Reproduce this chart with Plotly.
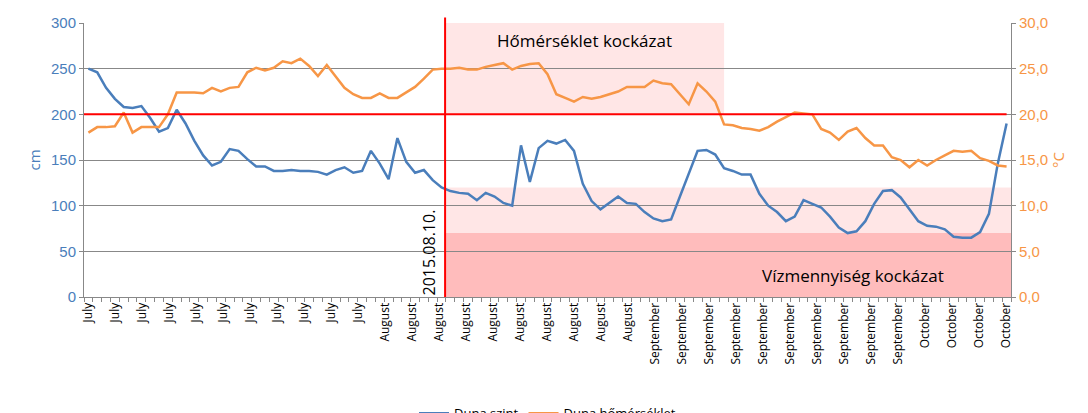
import plotly.graph_objects as go

level_cm = [250,246,229,217,208,207,209,196,181,185,205,190,171,155,144,148,162,160,151,143,
            143,138,138,139,138,138,137,134,139,142,136,138,160,146,129,174,148,136,139,128,
            120,116,114,113,106,114,110,103,100,166,126,163,171,168,172,160,124,105,96,103,
            110,103,102,93,86,83,85,110,136,160,161,156,141,138,134,134,113,100,93,83,
            88,106,102,98,88,76,70,72,83,102,116,117,109,96,83,78,77,74,66,65,
            65,71,91,146,190]
temp_c = [18.0,18.6,18.6,18.7,20.2,18.0,18.6,18.6,18.6,20.0,22.4,22.4,22.4,22.3,22.9,22.5,22.9,23.0,24.6,25.1,
          24.8,25.1,25.8,25.6,26.1,25.3,24.2,25.4,24.2,22.9,22.2,21.8,21.8,22.3,21.8,21.8,22.4,23.0,23.9,24.9,
          25.0,25.0,25.1,24.9,24.9,25.2,25.4,25.6,24.9,25.3,25.5,25.6,24.4,22.2,21.8,21.4,21.9,21.7,21.9,22.2,
          22.5,23.0,23.0,23.0,23.7,23.4,23.3,22.2,21.1,23.4,22.5,21.4,18.9,18.8,18.5,18.4,18.2,18.6,19.2,19.7,
          20.2,20.1,20.0,18.4,18.0,17.2,18.1,18.5,17.4,16.6,16.6,15.3,15.0,14.2,15.0,14.4,15.0,15.5,16.0,15.9,
          16.0,15.2,14.9,14.4,14.3]
month_labels = ["July"]*11 + ["August"]*10 + ["September"]*10 + ["October"]*4
x = list(range(len(level_cm)))
n = len(x)
step = (n - 1) / (len(month_labels) - 1)
tickvals = [k * step for k in range(len(month_labels))]

blue = "#4A7EBB"
orange = "#F79646"

fig = go.Figure()
fig.add_trace(go.Scatter(x=x, y=level_cm, name="Duna szint", mode="lines",
                         line=dict(color=blue, width=2.5)))
fig.add_trace(go.Scatter(x=x, y=temp_c, name="Duna hőmérséklet", mode="lines",
                         line=dict(color=orange, width=2.5), yaxis="y2"))

x_event = 40.4
shapes = [
    dict(type="rect", xref="x", yref="y", x0=x_event, x1=72.0, y0=200, y1=300,
         fillcolor="rgba(255,200,200,0.45)", line=dict(width=0), layer="below"),
    dict(type="rect", xref="x", yref="y", x0=x_event, x1=104.5, y0=70, y1=120,
         fillcolor="rgba(255,200,200,0.45)", line=dict(width=0), layer="below"),
    dict(type="rect", xref="x", yref="y", x0=x_event, x1=104.5, y0=0, y1=70,
         fillcolor="rgba(255,160,160,0.7)", line=dict(width=0), layer="below"),
    dict(type="line", xref="x", yref="y", x0=-0.5, x1=104, y0=200, y1=200,
         line=dict(color="red", width=2)),
    dict(type="line", xref="x", yref="paper", x0=x_event, x1=x_event, y0=0, y1=1.02,
         line=dict(color="red", width=2)),
]

fig.update_layout(
    width=1088, height=413,
    margin=dict(l=76, r=85, t=15, b=124, autoexpand=False),
    paper_bgcolor="white", plot_bgcolor="white",
    font=dict(family="Open Sans, Liberation Sans, sans-serif", size=12, color="black"),
    separators=", ",
    showlegend=True,
    legend=dict(orientation="h", x=0.5, xanchor="center", y=-0.37, yanchor="top",
                font=dict(size=13)),
    shapes=shapes,
    xaxis=dict(range=[-0.5, n - 0.5], tickvals=tickvals, ticktext=month_labels,
               tickangle=-90, showgrid=False, showline=True, linecolor="#888",
               ticks="", minor=dict(ticks="outside", dtick=1, tick0=0.5, ticklen=4, tickcolor="#888"),
               tickfont=dict(size=12), zeroline=False, automargin=False),
    yaxis=dict(range=[0, 300], dtick=50, showgrid=True, gridcolor="#888", gridwidth=1,
               title=dict(text="cm", font=dict(color=blue, size=15), standoff=6),
               tickfont=dict(color=blue, size=15, family="Liberation Sans, sans-serif"),
               showline=True, linecolor="#888", automargin=False,
               ticks="outside", ticklen=4, tickcolor="#888", zeroline=False),
    yaxis2=dict(range=[0, 30], dtick=5, tickformat=".1f", overlaying="y", side="right",
                showgrid=False, title=dict(text="°C", font=dict(color=orange, size=15), standoff=6),
                tickfont=dict(color=orange, size=15, family="Liberation Sans, sans-serif"),
                showline=True, linecolor="#888", automargin=False,
                ticks="outside", ticklen=4, tickcolor="#888", zeroline=False),
    annotations=[
        dict(text="Hőmérséklet kockázat", x=56.2, y=281, xref="x", yref="y",
             showarrow=False, font=dict(size=17)),
        dict(text="Vízmennyiség kockázat", x=86.6, y=23, xref="x", yref="y",
             showarrow=False, font=dict(size=17)),
        dict(text="2015.08.10.", x=x_event - 0.3, y=0, xref="x", yref="y",
             xanchor="right", yanchor="bottom", textangle=-90,
             showarrow=False, font=dict(size=16)),
    ],
)
fig.write_html("out.html")
